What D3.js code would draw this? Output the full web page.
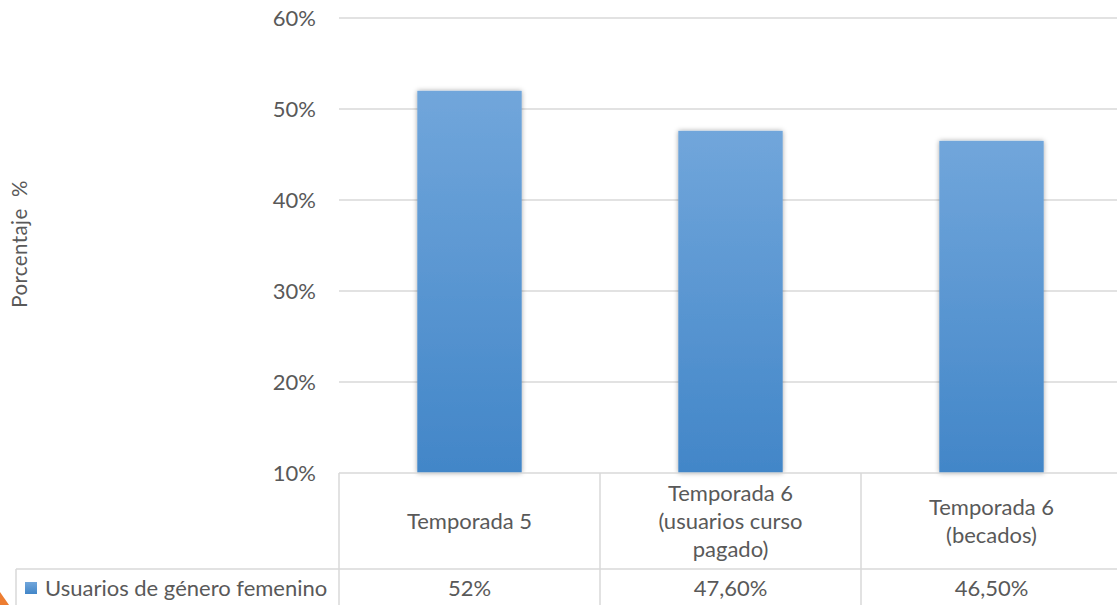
<!DOCTYPE html>
<html><head><meta charset="utf-8">
<script src="https://cdn.jsdelivr.net/npm/d3@7"></script>
<style>body{margin:0;background:#fff;}svg{display:block;font-family:Lato,"Open Sans",sans-serif;}</style>
</head><body>
<svg id="c" width="1117" height="605"></svg>
<script>
const categories = [["Temporada 5"], ["Temporada 6", "(usuarios curso", "pagado)"], ["Temporada 6", "(becados)"]];
const values = [52, 47.6, 46.5];
const valueLabels = ["52%", "47,60%", "46,50%"];
const ticks = [10, 20, 30, 40, 50, 60];
const seriesName = "Usuarios de género femenino";
const axisTitle = "Porcentaje  %";

(function () {
const svg = d3.select("#c");
const pl = 339, pr = 1122, pt = 18, pb = 473;
const x = d3.scaleBand().domain(d3.range(values.length)).range([pl, pr]).paddingInner(0.6).paddingOuter(0.3);
const xb = d3.scaleBand().domain(d3.range(values.length)).range([pl, pr]);
const y = d3.scaleLinear().domain([10, 60]).range([pb, pt]);
const textCol = "#595959", gridCol = "#d9d9d9";
const fs = "22px";

const defs = svg.append("defs");
const g = defs.append("linearGradient").attr("id", "bg").attr("x1", 0).attr("y1", 0).attr("x2", 0).attr("y2", 1);
g.append("stop").attr("offset", "0%").attr("stop-color", "#71a6db");
g.append("stop").attr("offset", "100%").attr("stop-color", "#4286c8");
const f = defs.append("filter").attr("id", "sh").attr("x", "-20%").attr("y", "-20%").attr("width", "140%").attr("height", "140%");
f.append("feDropShadow").attr("dx", 0).attr("dy", 0).attr("stdDeviation", 2.5).attr("flood-color", "#000").attr("flood-opacity", 0.35);

svg.append("g").selectAll("line").data(ticks.slice(1)).join("line")
  .attr("x1", pl).attr("x2", 1117).attr("y1", d => y(d)).attr("y2", d => y(d))
  .attr("stroke", gridCol).attr("stroke-width", 1.5);

svg.append("g").selectAll("text").data(ticks).join("text")
  .attr("x", 316).attr("y", d => y(d)).attr("dy", "0.35em").attr("text-anchor", "end")
  .attr("fill", textCol).style("font-size", fs).text(d => d + "%");

svg.append("g").selectAll("rect").data(values).join("rect")
  .attr("x", (d, i) => x(i)).attr("width", x.bandwidth())
  .attr("y", d => y(d)).attr("height", d => y(10) - y(d))
  .attr("fill", "url(#bg)").attr("filter", "url(#sh)");

const tl = svg.append("g").attr("stroke", gridCol).attr("stroke-width", 1.5);
tl.append("line").attr("x1", pl).attr("x2", 1117).attr("y1", pb).attr("y2", pb);
tl.append("line").attr("x1", 16).attr("x2", 1117).attr("y1", 569).attr("y2", 569);
tl.append("line").attr("x1", 16).attr("x2", 16).attr("y1", 569).attr("y2", 605);
tl.selectAll("line.v").data(d3.range(values.length)).join("line").attr("class", "v")
  .attr("x1", i => xb(i)).attr("x2", i => xb(i)).attr("y1", pb).attr("y2", 605);

const lh = 28, midY = 521;
categories.forEach((lines, i) => {
  const cx = xb(i) + xb.bandwidth() / 2;
  const t = svg.append("text").attr("text-anchor", "middle").attr("fill", textCol).style("font-size", fs);
  lines.forEach((s, k) => {
    t.append("tspan").attr("x", cx).attr("y", midY + (k - (lines.length - 1) / 2) * lh).attr("dy", "0.35em").text(s);
  });
});

svg.append("g").selectAll("text").data(valueLabels).join("text")
  .attr("x", (d, i) => xb(i) + xb.bandwidth() / 2).attr("y", 588).attr("dy", "0.35em")
  .attr("text-anchor", "middle").attr("fill", textCol).style("font-size", fs).text(d => d);

svg.append("rect").attr("x", 25).attr("y", 582).attr("width", 12).attr("height", 12).attr("fill", "url(#bg)");
svg.append("text").attr("x", 45).attr("y", 588).attr("dy", "0.35em").attr("fill", textCol)
  .style("font-size", fs).text(seriesName);

svg.append("text").attr("transform", "translate(20,244) rotate(-90)").attr("text-anchor", "middle")
  .attr("dy", "0.35em").attr("fill", textCol).style("font-size", "20.5px").style("white-space", "pre")
  .style("letter-spacing", "0.4px").text(axisTitle);

svg.append("path").attr("d", "M0,592 L9,605 L0,605 Z").attr("fill", "#ed7d31");
})();
</script>
</body></html>
